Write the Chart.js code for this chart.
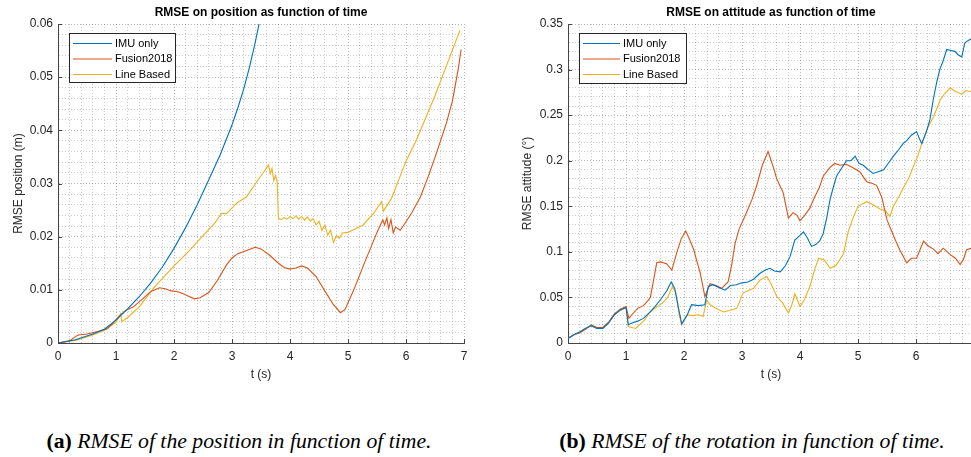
<!DOCTYPE html>
<html>
<head>
<meta charset="utf-8">
<script src="https://cdn.jsdelivr.net/npm/chart.js@4.4.1/dist/chart.umd.min.js"></script>
<style>
  html, body { margin: 0; padding: 0; background: #fff; overflow: hidden; }
  body { width: 971px; height: 457px; position: relative; }
  canvas { position: absolute; top: 0; }
  #posChart { left: 0; }
  #attChart { left: 490px; }
  .caption {
    position: absolute; top: 429px; width: 480px; text-align: center;
    font-family: 'Liberation Serif', 'DejaVu Serif', serif; font-size: 21.7px; color: #000;
    white-space: nowrap; line-height: 25px;
  }
  .caption b { font-style: normal; }
  .caption i { font-style: italic; }
</style>
</head>
<body>
<canvas id="posChart" width="480" height="400"></canvas>
<canvas id="attChart" width="500" height="400"></canvas>
<div class="caption" style="left:-1px"><b>(a)</b> <i>RMSE of the position in function of time.</i></div>
<div class="caption" style="left:512px"><b>(b)</b> <i>RMSE of the rotation in function of time.</i></div>

<script>
// ---- data (time in s) ----
const seriesNames = ['IMU only', 'Fusion2018', 'Line Based'];
const seriesColors = ['#0072BD', '#D95319', '#EDB120'];

// position RMSE (m)
const posImuT = [0, 0.3, 0.6, 0.8, 1.0, 1.2, 1.4, 1.6, 1.8, 2.0, 2.2, 2.4, 2.6, 2.8, 3.0, 3.1, 3.2, 3.3, 3.4, 3.5, 3.6];
const posImu = [0, 0.0006, 0.0017, 0.0026, 0.0043, 0.0064, 0.0087, 0.0113, 0.0143, 0.0178, 0.0217, 0.026, 0.0307, 0.0355, 0.041, 0.0442, 0.0477, 0.0518, 0.0565, 0.0618, 0.0678];

const posFusT = [0, 0.2, 0.3, 0.35, 0.5, 0.7, 0.85, 0.95, 1.05, 1.15, 1.3, 1.45, 1.6, 1.75, 1.85, 1.95, 2.05, 2.15, 2.25, 2.35, 2.45, 2.6, 2.75, 2.9, 3.0, 3.1, 3.25, 3.4, 3.5, 3.65, 3.8, 3.9, 4.0, 4.1, 4.2, 4.3, 4.45, 4.6, 4.75, 4.87, 4.95, 5.1, 5.3, 5.5, 5.6, 5.63, 5.67, 5.7, 5.74, 5.78, 5.82, 5.9, 6.0, 6.1, 6.25, 6.4, 6.55, 6.7, 6.8, 6.9, 6.95];
const posFus = [0, 0.0004, 0.0012, 0.0015, 0.0017, 0.0022, 0.0027, 0.0038, 0.005, 0.006, 0.0068, 0.0082, 0.0097, 0.0104, 0.0102, 0.0098, 0.0097, 0.0093, 0.0088, 0.0083, 0.0085, 0.0095, 0.0118, 0.0146, 0.016, 0.0168, 0.0174, 0.018, 0.0177, 0.0165, 0.015, 0.0142, 0.0139, 0.0141, 0.0145, 0.0141, 0.0125, 0.0098, 0.0072, 0.0057, 0.0063, 0.01, 0.0155, 0.0208, 0.0232, 0.0222, 0.0235, 0.0215, 0.0232, 0.0207, 0.0218, 0.0212, 0.0228, 0.0245, 0.0275, 0.0318, 0.0365, 0.0415, 0.0455, 0.0515, 0.0552];

const posLineT = [0, 0.3, 0.6, 0.8, 1.0, 1.08, 1.1, 1.2, 1.4, 1.67, 2.0, 2.25, 2.5, 2.7, 2.82, 2.9, 2.95, 3.08, 3.25, 3.45, 3.55, 3.63, 3.66, 3.69, 3.72, 3.75, 3.78, 3.8, 3.85, 3.9, 3.95, 4.0, 4.05, 4.1, 4.15, 4.2, 4.25, 4.3, 4.35, 4.4, 4.45, 4.5, 4.55, 4.6, 4.65, 4.7, 4.75, 4.8, 4.85, 4.9, 5.0, 5.26, 5.45, 5.58, 5.61, 5.75, 6.0, 6.18, 6.5, 6.93];
const posLine = [0, 0.0005, 0.0015, 0.0024, 0.0039, 0.0055, 0.004, 0.0048, 0.0068, 0.0106, 0.0145, 0.0172, 0.0202, 0.0225, 0.0244, 0.0243, 0.0248, 0.0263, 0.0275, 0.0307, 0.0322, 0.0335, 0.0318, 0.0328, 0.0305, 0.0315, 0.0303, 0.0235, 0.0232, 0.0236, 0.0233, 0.0238, 0.0234, 0.0239, 0.0233, 0.0238, 0.0231, 0.0237, 0.0229, 0.0234, 0.0222, 0.0229, 0.0212, 0.0222, 0.0203, 0.0212, 0.0189, 0.0202, 0.0197, 0.0207, 0.0208, 0.0222, 0.0245, 0.0266, 0.0248, 0.0272, 0.0342, 0.0382, 0.0465, 0.0588];

// attitude RMSE (deg)
const attImuT = [0, 0.1, 0.2, 0.3, 0.4, 0.5, 0.6, 0.7, 0.8, 0.9, 1.0, 1.04, 1.1, 1.2, 1.3, 1.4, 1.5, 1.6, 1.7, 1.78, 1.84, 1.9, 1.96, 2.05, 2.13, 2.25, 2.36, 2.42, 2.5, 2.6, 2.71, 2.8, 2.9, 3.0, 3.1, 3.2, 3.3, 3.4, 3.48, 3.56, 3.66, 3.75, 3.83, 3.91, 4.0, 4.06, 4.13, 4.2, 4.27, 4.34, 4.4, 4.46, 4.52, 4.57, 4.63, 4.7, 4.8, 4.88, 4.95, 5.02, 5.09, 5.18, 5.26, 5.35, 5.44, 5.52, 5.61, 5.7, 5.78, 5.84, 5.92, 6.01, 6.06, 6.1, 6.18, 6.24, 6.3, 6.36, 6.41, 6.47, 6.53, 6.6, 6.67, 6.73, 6.79, 6.84, 6.9, 6.96, 7.0];
const attImu = [0.005, 0.009, 0.012, 0.016, 0.019, 0.016, 0.016, 0.022, 0.031, 0.036, 0.039, 0.02, 0.022, 0.024, 0.027, 0.033, 0.04, 0.048, 0.057, 0.067, 0.06, 0.04, 0.021, 0.03, 0.042, 0.041, 0.042, 0.062, 0.064, 0.061, 0.058, 0.063, 0.064, 0.066, 0.067, 0.07, 0.076, 0.08, 0.082, 0.079, 0.078, 0.085, 0.095, 0.113, 0.118, 0.122, 0.115, 0.106, 0.108, 0.112, 0.12, 0.137, 0.158, 0.17, 0.183, 0.19, 0.2, 0.2, 0.205, 0.197, 0.195, 0.19, 0.186, 0.188, 0.19, 0.197, 0.205, 0.212, 0.219, 0.222, 0.228, 0.232, 0.224, 0.219, 0.232, 0.245, 0.268, 0.287, 0.3, 0.31, 0.322, 0.321, 0.32, 0.316, 0.314, 0.329, 0.332, 0.334, 0.333];

const attFusT = [0, 0.1, 0.2, 0.3, 0.4, 0.5, 0.6, 0.7, 0.8, 0.9, 1.0, 1.05, 1.1, 1.2, 1.3, 1.36, 1.42, 1.47, 1.53, 1.59, 1.7, 1.79, 1.87, 1.95, 2.03, 2.1, 2.17, 2.22, 2.28, 2.36, 2.45, 2.55, 2.65, 2.76, 2.82, 2.88, 2.95, 3.05, 3.17, 3.25, 3.35, 3.45, 3.54, 3.6, 3.71, 3.8, 3.88, 3.95, 4.0, 4.08, 4.17, 4.25, 4.33, 4.4, 4.52, 4.6, 4.69, 4.8, 4.92, 5.03, 5.15, 5.25, 5.32, 5.41, 5.5, 5.61, 5.72, 5.84, 5.92, 6.01, 6.13, 6.2, 6.3, 6.38, 6.47, 6.59, 6.68, 6.76, 6.82, 6.87, 6.95, 7.0];
const attFus = [0.005, 0.009, 0.011, 0.015, 0.02, 0.017, 0.017, 0.023, 0.032, 0.037, 0.04, 0.027, 0.031, 0.038, 0.041, 0.045, 0.05, 0.067, 0.088, 0.089, 0.087, 0.08, 0.098, 0.114, 0.123, 0.113, 0.102, 0.09, 0.077, 0.051, 0.065, 0.063, 0.06, 0.067, 0.085, 0.109, 0.125, 0.139, 0.157, 0.172, 0.195, 0.21, 0.193, 0.18, 0.165, 0.137, 0.143, 0.14, 0.134, 0.14, 0.148, 0.16, 0.17, 0.183, 0.193, 0.197, 0.195, 0.196, 0.192, 0.188, 0.177, 0.175, 0.173, 0.16, 0.135, 0.118, 0.102, 0.088, 0.093, 0.093, 0.112, 0.107, 0.103, 0.098, 0.104, 0.097, 0.093, 0.086, 0.092, 0.102, 0.104, 0.1];

const attLineT = [0, 0.1, 0.2, 0.3, 0.4, 0.5, 0.6, 0.7, 0.8, 0.9, 1.0, 1.04, 1.1, 1.17, 1.25, 1.32, 1.4, 1.5, 1.63, 1.72, 1.8, 1.86, 1.92, 1.96, 2.05, 2.15, 2.25, 2.33, 2.39, 2.45, 2.55, 2.68, 2.8, 2.91, 3.02, 3.12, 3.2, 3.31, 3.43, 3.5, 3.6, 3.7, 3.8, 3.86, 3.91, 4.0, 4.08, 4.17, 4.25, 4.32, 4.42, 4.52, 4.62, 4.75, 4.83, 4.92, 5.0, 5.15, 5.25, 5.38, 5.47, 5.55, 5.61, 5.7, 5.78, 5.87, 5.95, 6.03, 6.1, 6.2, 6.3, 6.42, 6.5, 6.59, 6.68, 6.79, 6.86, 6.93, 7.0];
const attLine = [0.005, 0.009, 0.012, 0.016, 0.019, 0.016, 0.016, 0.022, 0.031, 0.036, 0.039, 0.018, 0.017, 0.016, 0.021, 0.025, 0.033, 0.038, 0.044, 0.05, 0.062, 0.055, 0.03, 0.02, 0.031, 0.03, 0.031, 0.029, 0.047, 0.042, 0.038, 0.034, 0.036, 0.038, 0.055, 0.058, 0.06, 0.069, 0.073, 0.065, 0.051, 0.044, 0.033, 0.042, 0.054, 0.04, 0.048, 0.062, 0.08, 0.093, 0.091, 0.082, 0.085, 0.098, 0.122, 0.138, 0.15, 0.155, 0.152, 0.147, 0.145, 0.139, 0.15, 0.16, 0.17, 0.18, 0.193, 0.205, 0.219, 0.236, 0.248, 0.267, 0.274, 0.28, 0.276, 0.273, 0.277, 0.276, 0.277];

// ---- helpers ----
const FONT = "'Liberation Sans', Arial, sans-serif";
const TXT = '#262626';

function toPoints(ts, vs) {
  return ts.map((t, i) => ({ x: t, y: vs[i] }));
}

function isMajor(v, step) {
  const r = v / step;
  return Math.abs(r - Math.round(r)) < 1e-6;
}

function fmt(v) {
  return String(Number(v.toFixed(3)));
}

// evenly spaced ticks so every minor grid line gets drawn
function fixedTicks(min, max, step) {
  return (scale) => {
    const n = Math.round((max - min) / step);
    scale.ticks = [];
    for (let i = 0; i <= n; i++) scale.ticks.push({ value: Number((min + i * step).toFixed(6)) });
  };
}

// MATLAB-like legend box inside the axes
const boxLegend = {
  id: 'boxLegend',
  afterDatasetsDraw(chart, args, opts) {
    const { ctx, chartArea } = chart;
    const x = chartArea.left + opts.dx;
    const y = chartArea.top + opts.dy;
    ctx.save();
    ctx.fillStyle = '#fff';
    ctx.fillRect(x, y, opts.width, opts.height);
    ctx.strokeStyle = TXT;
    ctx.lineWidth = 1;
    ctx.strokeRect(Math.round(x) + 0.5, Math.round(y) + 0.5, opts.width, opts.height);
    ctx.font = '11px ' + FONT;
    ctx.textBaseline = 'middle';
    chart.data.datasets.forEach((ds, i) => {
      const cy = y + 10.5 + i * 15.5;
      ctx.strokeStyle = ds.borderColor;
      ctx.lineWidth = 1.2;
      ctx.beginPath();
      ctx.moveTo(x + 4, cy);
      ctx.lineTo(x + 4 + opts.lineLen, cy);
      ctx.stroke();
      ctx.fillStyle = '#000';
      ctx.fillText(ds.label, x + 7 + opts.lineLen, cy);
    });
    ctx.restore();
  }
};

// inward tick marks on the major ticks
const inTicks = {
  id: 'inTicks',
  afterDraw(chart, args, opts) {
    const { ctx, chartArea, scales } = chart;
    ctx.save();
    ctx.strokeStyle = '#444';
    ctx.lineWidth = 1;
    ctx.beginPath();
    scales.x.ticks.forEach((t) => {
      if (!isMajor(t.value, opts.xStep)) return;
      const px = Math.round(scales.x.getPixelForValue(t.value)) + 0.5;
      ctx.moveTo(px, chartArea.bottom);
      ctx.lineTo(px, chartArea.bottom - 4);
    });
    scales.y.ticks.forEach((t) => {
      if (!isMajor(t.value, opts.yStep)) return;
      const py = Math.round(scales.y.getPixelForValue(t.value)) + 0.5;
      ctx.moveTo(chartArea.left, py);
      ctx.lineTo(chartArea.left + 4, py);
    });
    ctx.stroke();
    ctx.restore();
  }
};

function makeChart(id, cfg) {
  const datasets = cfg.series.map((pts, i) => ({
    label: seriesNames[i],
    data: pts,
    borderColor: seriesColors[i],
    borderWidth: 1.1,
    pointRadius: 0,
    tension: 0,
    fill: false,
  }));
  return new Chart(document.getElementById(id).getContext('2d'), {
    type: 'line',
    data: { datasets },
    options: {
      animation: false,
      responsive: false,
      layout: { padding: { left: 0, right: 16, top: 0, bottom: 0 } },
      plugins: {
        legend: { display: false },
        tooltip: { enabled: false },
        title: {
          display: true,
          text: cfg.title,
          fullSize: false,
          color: '#000',
          font: { family: FONT, size: 12, weight: 'bold', lineHeight: 1.2 },
          padding: { top: 5, bottom: 4.6 },
        },
        boxLegend: cfg.legend,
        inTicks: { xStep: 1, yStep: cfg.yMajor },
      },
      scales: {
        x: {
          type: 'linear',
          min: 0,
          max: 7,
          afterBuildTicks: fixedTicks(0, 7, 0.2),
          afterFit: (s) => { s.height = 57; },
          grid: {
            drawTicks: false,
            color: (c) => (isMajor(c.tick.value, 1) ? 'rgba(0,0,0,0.28)' : 'rgba(0,0,0,0.2)'),
            lineWidth: 1,
          },
          border: { display: true, color: '#444', width: 1, dash: [1, 2] },
          ticks: {
            autoSkip: false,
            maxRotation: 0,
            padding: 6,
            color: TXT,
            font: { family: FONT, size: 12 },
            callback: (v) => (isMajor(v, 1) ? fmt(v) : ''),
          },
          title: {
            display: true,
            text: 't (s)',
            color: TXT,
            font: { family: FONT, size: 12 },
            padding: { top: 0, bottom: 18 },
          },
        },
        y: {
          type: 'linear',
          min: 0,
          max: cfg.yMax,
          afterBuildTicks: fixedTicks(0, cfg.yMax, cfg.yMinor),
          afterFit: (s) => { s.width = cfg.yWidth; },
          grid: {
            drawTicks: false,
            color: (c) => (isMajor(c.tick.value, cfg.yMajor) ? 'rgba(0,0,0,0.28)' : 'rgba(0,0,0,0.2)'),
            lineWidth: 1,
          },
          border: { display: true, color: '#444', width: 1, dash: [1, 2] },
          ticks: {
            autoSkip: false,
            padding: 5,
            color: TXT,
            font: { family: FONT, size: 12 },
            callback: (v) => (isMajor(v, cfg.yMajor) ? fmt(v) : ''),
          },
          title: {
            display: true,
            text: cfg.yTitle,
            color: TXT,
            font: { family: FONT, size: 12 },
            padding: { top: cfg.yTitlePad, bottom: 0 },
          },
        },
      },
    },
    plugins: [boxLegend, inTicks],
  });
}

makeChart('posChart', {
  title: 'RMSE on position as function of time',
  yTitle: 'RMSE position (m)',
  yMax: 0.06,
  yMajor: 0.01,
  yMinor: 0.002,
  yWidth: 58,
  yTitlePad: 11,
  legend: { dx: 11, dy: 9, width: 106, height: 49, lineLen: 39 },
  series: [toPoints(posImuT, posImu), toPoints(posFusT, posFus), toPoints(posLineT, posLine)],
});

makeChart('attChart', {
  title: 'RMSE on attitude as function of time',
  yTitle: 'RMSE attitude (°)',
  yMax: 0.35,
  yMajor: 0.05,
  yMinor: 0.01,
  yWidth: 78,
  yTitlePad: 30,
  legend: { dx: 11, dy: 9, width: 107, height: 50, lineLen: 37 },
  series: [toPoints(attImuT, attImu), toPoints(attFusT, attFus), toPoints(attLineT, attLine)],
});
</script>
</body>
</html>
